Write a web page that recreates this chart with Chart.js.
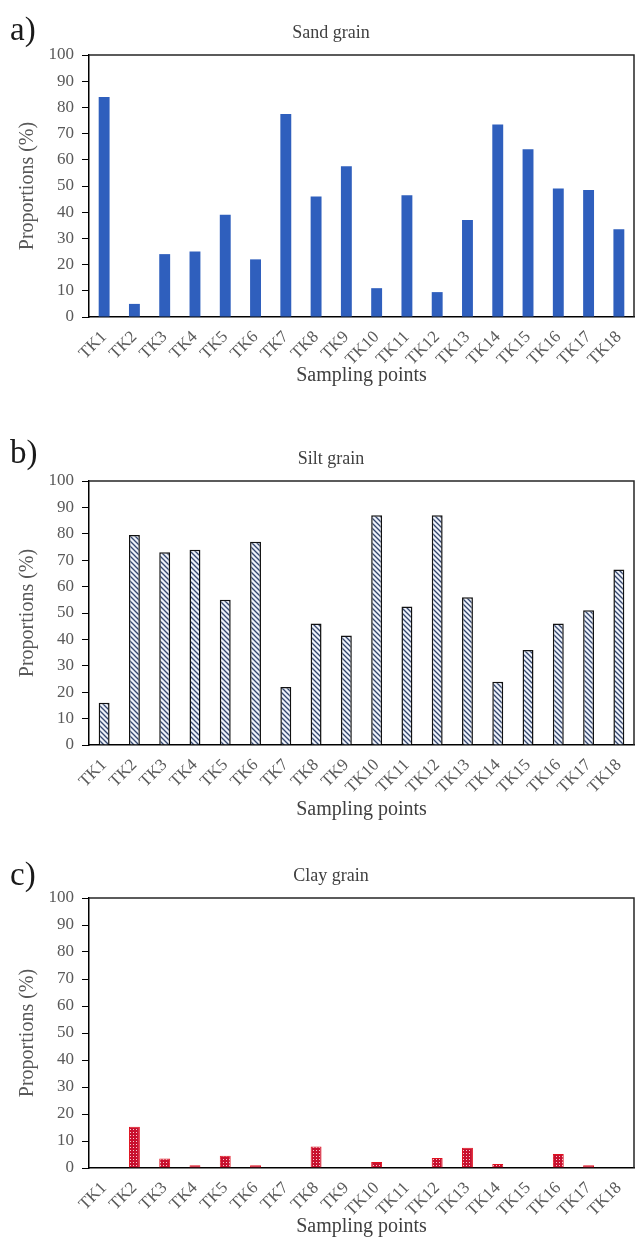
<!DOCTYPE html>
<html>
<head>
<meta charset="utf-8">
<script src="https://cdn.jsdelivr.net/npm/chart.js@4.4.0/dist/chart.umd.min.js"></script>
<style>
    body { margin: 0; background: #fff; width: 636px; height: 1239px; position: relative; overflow: hidden; }
    .panel { position: absolute; left: 0; width: 636px; }
    .tag { position: absolute; left: 10px; font-family: 'Liberation Serif', serif; font-size: 33px; line-height: 33px; color: #1a1a1a; }
</style>
</head>
<body>
<div class="panel" style="top:0;height:426px"><canvas id="sandChart" width="636" height="426"></canvas></div>
<div class="panel" style="top:426px;height:417px"><canvas id="siltChart" width="636" height="417"></canvas></div>
<div class="panel" style="top:843px;height:396px"><canvas id="clayChart" width="636" height="396"></canvas></div>
<div class="tag" style="top:13px">a)</div>
<div class="tag" style="top:436px">b)</div>
<div class="tag" style="top:858px">c)</div>
<script>
const samplingPoints = ["TK1", "TK2", "TK3", "TK4", "TK5", "TK6", "TK7", "TK8", "TK9",
    "TK10", "TK11", "TK12", "TK13", "TK14", "TK15", "TK16", "TK17", "TK18"];
const sandValues = [84, 5, 24, 25, 39, 22, 77.5, 46, 57.5, 11, 46.5, 9.5, 37, 73.5, 64, 49, 48.5, 33.5];
const siltValues = [16, 79.5, 73, 74, 55, 77, 22, 46, 41.5, 87, 52.5, 87, 56, 24, 36, 46, 51, 66.5];
const clayValues = [0, 15.3, 3.5, 1, 4.5, 1, 0, 8, 0, 2.2, 0, 3.7, 7.5, 1.5, 0, 5.2, 1, 0];

const serif = "'Liberation Serif', 'Times New Roman', serif";

// excel style fills
function hatchFill() {
    const c = document.createElement('canvas');
    c.width = 5; c.height = 5;
    const g = c.getContext('2d');
    g.fillStyle = '#eef2fa';
    g.fillRect(0, 0, 5, 5);
    g.strokeStyle = '#33466e';
    g.lineWidth = 1.3;
    g.beginPath();
    g.moveTo(-1, -1); g.lineTo(6, 6);
    g.moveTo(-1, 4); g.lineTo(1, 6);
    g.moveTo(4, -1); g.lineTo(6, 1);
    g.stroke();
    return g.createPattern(c, 'repeat');
}

function dotFill() {
    const c = document.createElement('canvas');
    c.width = 3; c.height = 3;
    const g = c.getContext('2d');
    g.fillStyle = '#c8102e';
    g.fillRect(0, 0, 3, 3);
    g.fillStyle = '#f4c9cf';
    g.fillRect(1, 1, 1, 1);
    return g.createPattern(c, 'repeat');
}

const framePlugin = {
    id: 'frame',
    afterDraw(chart) {
        const {ctx, chartArea} = chart;
        ctx.save();
        ctx.strokeStyle = '#262626';
        ctx.lineWidth = 1.5;
        ctx.beginPath();
        ctx.moveTo(chartArea.left, chartArea.top);
        ctx.lineTo(chartArea.right, chartArea.top);
        ctx.lineTo(chartArea.right, chartArea.bottom);
        ctx.stroke();
        ctx.restore();
    }
};

const panelTitle = {
    id: 'panelTitle',
    afterDraw(chart, args, opts) {
        const ctx = chart.ctx;
        ctx.save();
        ctx.font = '18px ' + serif;
        ctx.fillStyle = '#404040';
        ctx.textAlign = 'center';
        ctx.textBaseline = 'middle';
        ctx.fillText(opts.text, 331, chart.chartArea.top - 22);
        ctx.restore();
    }
};

function makePanel(id, title, values, fill, border, borderWidth, xAxisHeight, padBottom) {
    const ctx = document.getElementById(id);
    new Chart(ctx, {
        type: 'bar',
        data: {
            labels: samplingPoints,
            datasets: [{
                label: title,
                data: values,
                backgroundColor: fill,
                borderColor: border,
                borderWidth: borderWidth,
                barPercentage: 0.36,
                categoryPercentage: 1
            }]
        },
        options: {
            responsive: false,
            animation: false,
            layout: { padding: { top: 55, right: 2, bottom: padBottom, left: 0 } },
            plugins: {
                legend: { display: false },
                tooltip: { enabled: false },
                panelTitle: { text: title }
            },
            scales: {
                x: {
                    grid: { display: false },
                    border: { display: true, color: '#000', width: 1.5 },
                    ticks: {
                        autoSkip: false,
                        minRotation: 45,
                        maxRotation: 45,
                        padding: 2,
                        color: '#595959',
                        font: { family: serif, size: 17 }
                    },
                    title: {
                        display: true,
                        text: 'Sampling points',
                        color: '#404040',
                        padding: 0,
                        font: { family: serif, size: 20 }
                    },
                    afterFit: function (scale) { scale.height = xAxisHeight; }
                },
                y: {
                    min: 0,
                    max: 100,
                    grid: { drawOnChartArea: false, drawTicks: true, tickLength: 7, color: '#000' },
                    border: { display: true, color: '#000', width: 1.5 },
                    ticks: {
                        stepSize: 10,
                        padding: 8,
                        color: '#595959',
                        font: { family: serif, size: 17 }
                    },
                    title: {
                        display: true,
                        text: 'Proportions (%)',
                        color: '#595959',
                        padding: { top: 16, bottom: 0 },
                        font: { family: serif, size: 20 }
                    },
                    afterFit: function (scale) { scale.width = 89; }
                }
            }
        },
        plugins: [framePlugin, panelTitle]
    });
}

document.addEventListener("DOMContentLoaded", function () {
    makePanel('sandChart', 'Sand grain', sandValues, '#2f5fbd', '#2f5fbd', 0, 71, 38);
    makePanel('siltChart', 'Silt grain', siltValues, hatchFill(), '#111', 1.5, 77, 21);
    makePanel('clayChart', 'Clay grain', clayValues, dotFill(), '#e0101e', 1, 71, 0);
});
</script>
</body>
</html>
